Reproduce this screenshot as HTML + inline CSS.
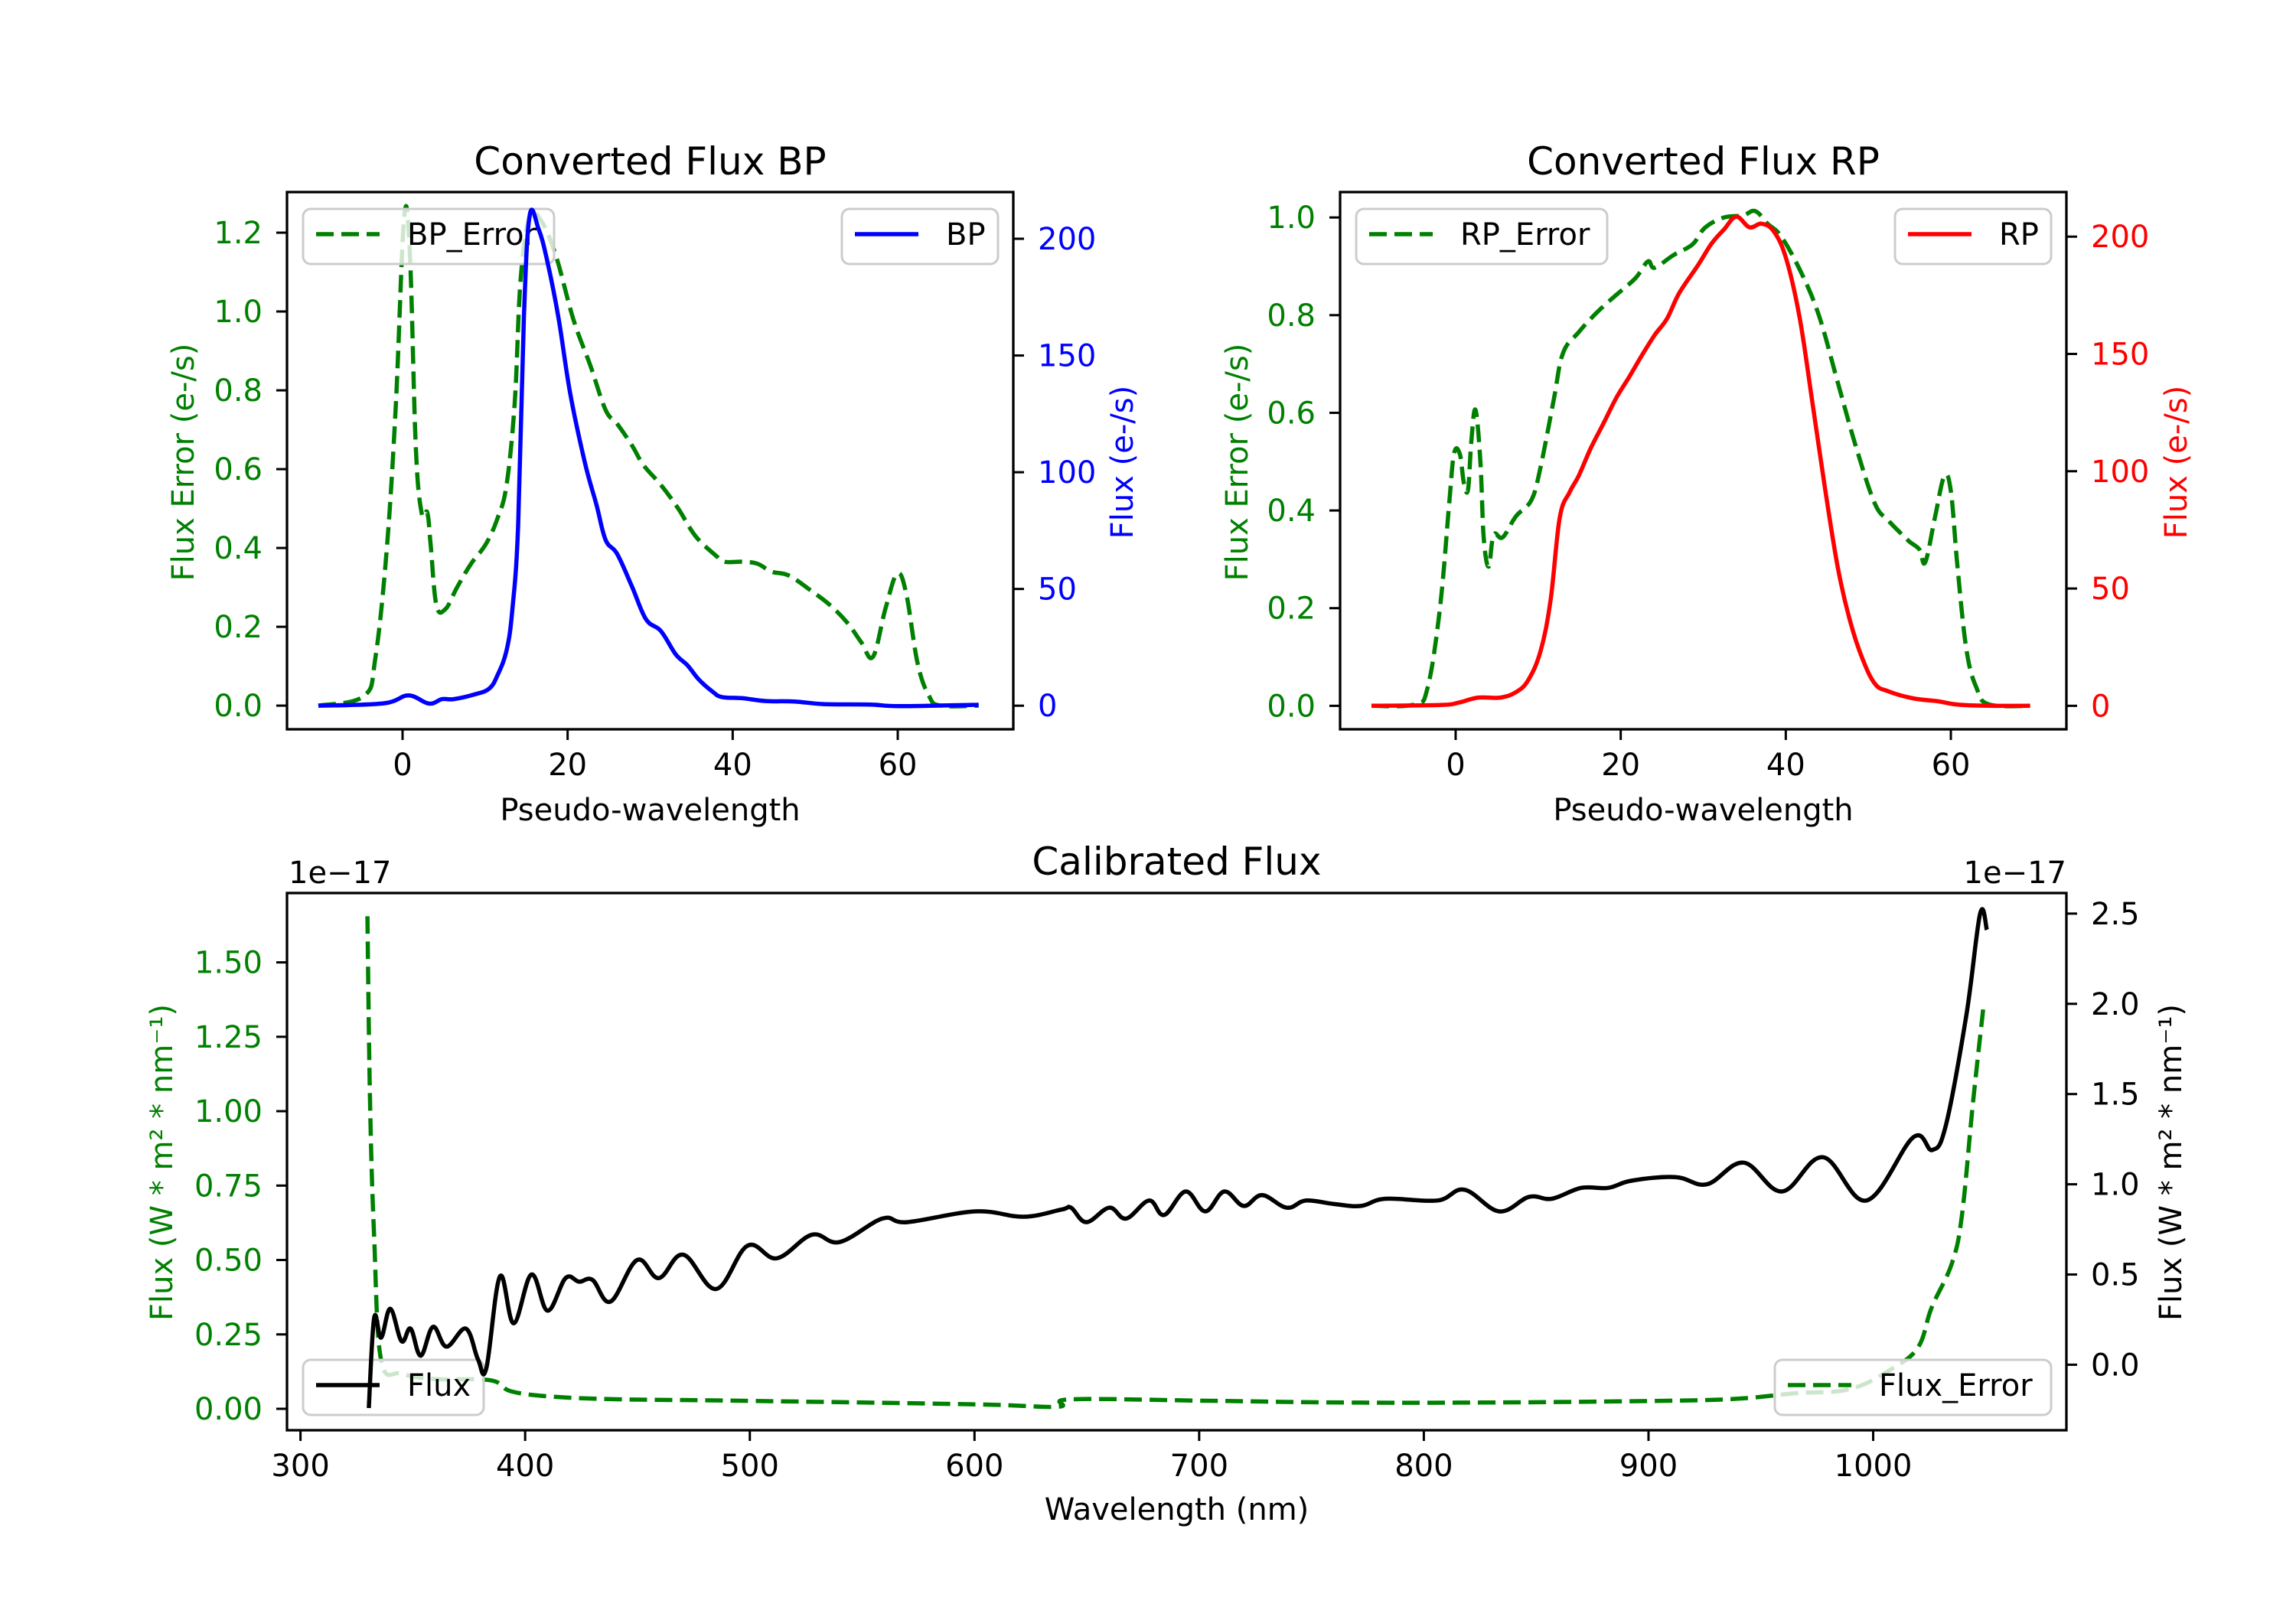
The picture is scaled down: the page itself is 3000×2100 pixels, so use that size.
<!DOCTYPE html>
<html><head><meta charset="utf-8"><style>
html,body{margin:0;padding:0;background:#fff;}
svg{display:block;font-family:"DejaVu Sans","Liberation Sans",sans-serif;}
</style></head><body>
<svg id="fig" width="3000" height="2100" viewBox="0 0 3000 2100" xmlns="http://www.w3.org/2000/svg"></svg>
<script>
// ---- BP panel data ----
const bpX = [-10.2,-2.3,0.7,3.2,4.8,6.2,8.7,10.5,11.5,12.6,13.3,14,14.7,15.4,16.5,17.5,18.9,20.3,22.1,23.5,24.6,26,27.8,29.5,31.3,33.1,34.5,35.9,37.6,38.7,41.2,44,47.5,51,56.7,60.2,69.8];
const bpFlux = [0,1,4.4,0.9,2.8,2.8,4.8,7.3,13,23.7,41,77,166,210,204,191,166,134,104,86,71,65,51,37,32,22,17.4,11.2,5.9,3.7,3.2,2,1.8,0.7,0.5,-0.2,0.4];
const bpErrX = [-10.2,-4.7,-3.3,-1.9,-0.8,0.2,0.9,1.6,2.3,3,3.4,4.1,5.2,6.6,8.3,10.1,11.5,12.6,13.6,14.3,15.4,16.8,18.6,20.7,22.8,24.6,26,27.8,29.2,31.3,33.4,35.5,38,39,41.2,43,44.7,46.8,49.6,51.8,53.9,55.6,57,58.5,59.9,61,62.4,63.8,65.2,69.8];
const bpErr = [0,0.024,0.12,0.40,0.77,1.24,1.14,0.66,0.49,0.49,0.41,0.255,0.245,0.30,0.36,0.41,0.475,0.56,0.77,1.08,1.24,1.23,1.14,0.98,0.86,0.75,0.715,0.66,0.61,0.56,0.50,0.43,0.38,0.365,0.365,0.36,0.34,0.33,0.29,0.255,0.21,0.16,0.124,0.245,0.334,0.287,0.108,0.024,0,0];
// ---- RP panel data ----
const rpX = [-10.2,-1.9,0.4,2.7,5.4,7.3,8.8,10.3,11.5,12.6,13.8,14.9,16.4,18,19.5,21,22.5,24.1,25.6,27.1,29.4,31,32.5,34,35.6,37.1,38.6,40.1,41.7,43.2,44.7,46.3,47.8,49.3,50.8,52.4,55.4,58.5,60.8,64.6,69.6];
const rpFlux = [0,0.35,1.4,3.5,3.5,5.8,11,23.5,45,80,91,98,110,121,131.5,140,149,158,165,176,188,197,203,208.5,204,205.5,202,190,165,130,94,59,36,20,9.4,6.2,3.2,1.9,0.5,0,0];
const rpErrX = [-10.2,-5,-3.4,-1.9,-0.8,-0.2,0.5,1,1.5,1.9,2.4,3,3.4,4,4.6,5.7,7.3,9.2,10.3,11.9,13,14.9,17.2,19.5,21.8,23.3,24.1,26.4,28.7,30.2,32.5,34.8,36.3,37.8,39.4,41.7,44,46.3,48.6,50.8,52.4,53.9,55,56.2,56.9,58.1,59.2,60,60.8,61.9,63.1,64.6,69.6];
const rpErr = [0,0.003,0.037,0.2,0.41,0.516,0.516,0.456,0.443,0.542,0.606,0.5,0.345,0.285,0.35,0.345,0.388,0.422,0.49,0.628,0.722,0.765,0.807,0.842,0.876,0.91,0.897,0.923,0.945,0.979,1.0,1.004,1.013,0.987,0.962,0.893,0.8,0.662,0.525,0.414,0.38,0.354,0.336,0.32,0.294,0.388,0.47,0.44,0.285,0.114,0.037,0.003,0];
// ---- Calibrated panel data ----
const calWl = [330.4,332.8,335.9,340,345,349,353.5,359,365,373.6,379,382.7,388.8,394.9,402.8,410,418,424,430,438,449.8,459.5,470.4,485,499,512,527.6,540,559,570,600.5,621.8,638.8,643,649.8,660,667.5,677.7,684.4,694,702.7,711.2,719.8,728,739,747.6,760.4,772,783,806,818,833.5,846.8,857,870,882,892.5,912,926,942.3,959.4,977.6,997,1017.8,1026.3,1032.4,1041.5,1047.6,1050.6];
const calFlux = [-0.24,0.26,0.15,0.31,0.13,0.2,0.05,0.21,0.10,0.2,0.03,-0.02,0.49,0.23,0.5,0.3,0.48,0.46,0.47,0.35,0.58,0.48,0.61,0.42,0.66,0.59,0.72,0.68,0.81,0.79,0.85,0.82,0.86,0.87,0.79,0.87,0.81,0.91,0.83,0.96,0.85,0.96,0.88,0.94,0.87,0.91,0.89,0.88,0.92,0.91,0.97,0.85,0.93,0.92,0.98,0.98,1.02,1.04,1.0,1.12,0.96,1.15,0.91,1.26,1.19,1.33,1.94,2.5,2.41];
const calErrWl = [329.8,331,332.8,335.9,345,360,384.5,393.7,412,442,497,600.5,637,643,704,765,825.5,886,935,965,989.5,1008,1020,1026,1035,1039.5,1044.3,1049.2];
const calErr = [1.655,1.02,0.576,0.163,0.118,0.10,0.096,0.059,0.041,0.032,0.027,0.015,0.007,0.032,0.027,0.021,0.021,0.025,0.032,0.052,0.066,0.133,0.207,0.34,0.488,0.65,1.02,1.36];
// ---- tick labels ----
const pseudoTicks = [0,20,40,60];
const bpErrTicks = [0.0,0.2,0.4,0.6,0.8,1.0,1.2];
const bpFluxTicks = [0,50,100,150,200];
const rpErrTicks = [0.0,0.2,0.4,0.6,0.8,1.0];
const rpFluxTicks = [0,50,100,150,200];
const wlTicks = [300,400,500,600,700,800,900,1000];
const calErrTicks = [0.00,0.25,0.50,0.75,1.00,1.25,1.50];
const calFluxTicks = [0.0,0.5,1.0,1.5,2.0,2.5];

const NS = "http://www.w3.org/2000/svg";
const svg = document.getElementById('fig');
function mk(tag, attrs, name, parent) {
  const el = document.createElementNS(NS, tag);
  for (const k in attrs) el.setAttribute(k, attrs[k]);
  
  
  (parent || svg).appendChild(el);
  return el;
}
function txt(s, attrs, name, parent) { const t = mk('text', attrs, name, parent); t.textContent = s; return t; }
function lin(d0, d1, p0, p1) { return v => p0 + (v - d0) / (d1 - d0) * (p1 - p0); }
const FS = 40;
const GREEN = '#008000';

function smoothPath(P) {
  let d = 'M' + P[0][0].toFixed(1) + ',' + P[0][1].toFixed(1);
  for (let i = 0; i < P.length - 1; i++) {
    const p0 = P[Math.max(0, i - 1)], p1 = P[i], p2 = P[i + 1], p3 = P[Math.min(P.length - 1, i + 2)];
    const t = 0.18;
    const c1x = p1[0] + (p2[0] - p0[0]) * t, c1y = p1[1] + (p2[1] - p0[1]) * t;
    const c2x = p2[0] - (p3[0] - p1[0]) * t, c2y = p2[1] - (p3[1] - p1[1]) * t;
    d += ' C' + c1x.toFixed(1) + ',' + c1y.toFixed(1) + ' ' + c2x.toFixed(1) + ',' + c2y.toFixed(1) + ' ' + p2[0].toFixed(1) + ',' + p2[1].toFixed(1);
  }
  return d;
}
function drawLine(xs, ys, sx, sy, color, dashed, name, g) {
  const P = xs.map((x, i) => [sx(x), sy(ys[i])]);
  const a = {d: smoothPath(P), fill: 'none', stroke: color, 'stroke-width': 5.5, 'stroke-linejoin': 'round'};
  if (dashed) a['stroke-dasharray'] = '23,10';
  return mk('path', a, name, g);
}
function legend(x, y, w, label, color, dashed, name, g) {
  const lg = mk('g', {}, name, g);
  mk('rect', {x: x, y: y, width: w, height: 72, rx: 10, fill: 'rgba(255,255,255,0.8)', stroke: '#cccccc', 'stroke-width': 3}, name + '-frame', lg);
  const a = {x1: x + 17, x2: x + 100, y1: y + 33, y2: y + 33, stroke: color, 'stroke-width': 5.5};
  if (dashed) a['stroke-dasharray'] = '23,10';
  mk('line', a, name + '-handle', lg);
  txt(label, {x: x + 136, y: y + 47, 'font-size': FS, fill: '#000'}, name + '-label', lg);
}
function xTicks(vals, sx, yb, g, name, fmt) {
  vals.forEach(v => {
    mk('line', {x1: sx(v), x2: sx(v), y1: yb, y2: yb + 14, stroke: '#000', 'stroke-width': 3}, name + '-tick', g);
    txt(fmt ? fmt(v) : String(v), {x: sx(v), y: yb + 60, 'font-size': FS, 'text-anchor': 'middle', fill: '#000'}, name + '-label', g);
  });
}
function yTicks(vals, sy, xa, side, color, g, name, fmt) {
  vals.forEach(v => {
    const d = side === 'left' ? -14 : 14;
    mk('line', {x1: xa, x2: xa + d, y1: sy(v), y2: sy(v), stroke: '#000', 'stroke-width': 3}, name + '-tick', g);
    txt(fmt(v), {x: side === 'left' ? xa - 32 : xa + 32, y: sy(v) + 14, 'font-size': FS, 'text-anchor': side === 'left' ? 'end' : 'start', fill: color}, name + '-label', g);
  });
}
function frame(x0, y0, x1, y1, g, name) {
  mk('rect', {x: x0, y: y0, width: x1 - x0, height: y1 - y0, fill: 'none', stroke: '#000', 'stroke-width': 3.3}, name, g);
}
function clip(id, x0, y0, x1, y1) {
  const c = mk('clipPath', {id: id}, id);
  mk('rect', {x: x0, y: y0, width: x1 - x0, height: y1 - y0}, id + '-rect', c);
}
function ylabel(s, x, y, color, name, g) {
  txt(s, {x: x, y: y, 'font-size': FS, 'text-anchor': 'middle', fill: color, transform: 'rotate(-90 ' + x + ' ' + y + ')'}, name, g);
}

// ---------- BP panel ----------
(function () {
  const g = mk('g', {}, 'bp-panel');
  const X0 = 375, X1 = 1324, Y0 = 251, Y1 = 953;
  const sx = lin(-14, 74, X0, X1), syL = lin(-0.06, 1.303, Y1, Y0), syR = lin(-10.1, 220, Y1, Y0);
  clip('clip-bp', X0, Y0, X1, Y1);
  const pg = mk('g', {'clip-path': 'url(#clip-bp)'}, 'bp-plot-area', g);
  drawLine(bpErrX, bpErr, sx, syL, GREEN, true, 'bp-error-line', pg);
  legend(396, 273, 328, 'BP_Error', GREEN, true, 'bp-error-legend', g);
  const pg2 = mk('g', {'clip-path': 'url(#clip-bp)'}, 'bp-plot-area-twin', g);
  drawLine(bpX, bpFlux, sx, syR, '#0000ff', false, 'bp-flux-line', pg2);
  legend(1100, 273, 204, 'BP', '#0000ff', false, 'bp-legend', g);
  frame(X0, Y0, X1, Y1, g, 'bp-axes-frame');
  xTicks(pseudoTicks, sx, Y1, g, 'bp-x-tick');
  yTicks(bpErrTicks, syL, X0, 'left', GREEN, g, 'bp-left-tick', v => v.toFixed(1));
  yTicks(bpFluxTicks, syR, X1, 'right', '#0000ff', g, 'bp-right-tick', v => String(v));
  txt('Converted Flux BP', {x: (X0 + X1) / 2, y: 228, 'font-size': 50, 'text-anchor': 'middle'}, 'bp-title', g);
  txt('Pseudo-wavelength', {x: (X0 + X1) / 2, y: 1072, 'font-size': FS, 'text-anchor': 'middle'}, 'bp-x-axis-title', g);
  ylabel('Flux Error (e-/s)', 253, 604, GREEN, 'bp-left-axis-title', g);
  ylabel('Flux (e-/s)', 1480, 604, '#0000ff', 'bp-right-axis-title', g);
})();

// ---------- RP panel ----------
(function () {
  const g = mk('g', {}, 'rp-panel');
  const X0 = 1751, X1 = 2700, Y0 = 251, Y1 = 953;
  const sx = lin(-14, 74, X0, X1), syL = lin(-0.048, 1.052, Y1, Y0), syR = lin(-10, 219, Y1, Y0);
  clip('clip-rp', X0, Y0, X1, Y1);
  const pg = mk('g', {'clip-path': 'url(#clip-rp)'}, 'rp-plot-area', g);
  drawLine(rpErrX, rpErr, sx, syL, GREEN, true, 'rp-error-line', pg);
  legend(1772, 273, 328, 'RP_Error', GREEN, true, 'rp-error-legend', g);
  const pg2 = mk('g', {'clip-path': 'url(#clip-rp)'}, 'rp-plot-area-twin', g);
  drawLine(rpX, rpFlux, sx, syR, '#ff0000', false, 'rp-flux-line', pg2);
  legend(2476, 273, 204, 'RP', '#ff0000', false, 'rp-legend', g);
  frame(X0, Y0, X1, Y1, g, 'rp-axes-frame');
  xTicks(pseudoTicks, sx, Y1, g, 'rp-x-tick');
  yTicks(rpErrTicks, syL, X0, 'left', GREEN, g, 'rp-left-tick', v => v.toFixed(1));
  yTicks(rpFluxTicks, syR, X1, 'right', '#ff0000', g, 'rp-right-tick', v => String(v));
  txt('Converted Flux RP', {x: (X0 + X1) / 2, y: 228, 'font-size': 50, 'text-anchor': 'middle'}, 'rp-title', g);
  txt('Pseudo-wavelength', {x: (X0 + X1) / 2, y: 1072, 'font-size': FS, 'text-anchor': 'middle'}, 'rp-x-axis-title', g);
  ylabel('Flux Error (e-/s)', 1630, 604, GREEN, 'rp-left-axis-title', g);
  ylabel('Flux (e-/s)', 2857, 604, '#ff0000', 'rp-right-axis-title', g);
})();

// ---------- Calibrated panel ----------
(function () {
  const g = mk('g', {}, 'calibrated-panel');
  const X0 = 375, X1 = 2700, Y0 = 1167, Y1 = 1869;
  const sx = lin(294, 1086, X0, X1), syL = lin(-0.072, 1.733, Y1, Y0), syR = lin(-0.363, 2.614, Y1, Y0);
  clip('clip-cal', X0, Y0, X1, Y1);
  const pg = mk('g', {'clip-path': 'url(#clip-cal)'}, 'cal-plot-area', g);
  drawLine(calErrWl, calErr, sx, syL, GREEN, true, 'cal-error-line', pg);
  legend(396, 1777, 236, 'Flux', '#000', false, 'cal-flux-legend', g);
  legend(2319, 1777, 361, 'Flux_Error', GREEN, true, 'cal-error-legend', g);
  const pg2 = mk('g', {'clip-path': 'url(#clip-cal)'}, 'cal-plot-area-twin', g);
  drawLine(calWl, calFlux, sx, syR, '#000', false, 'cal-flux-line', pg2);
  frame(X0, Y0, X1, Y1, g, 'cal-axes-frame');
  xTicks(wlTicks, sx, Y1, g, 'cal-x-tick');
  yTicks(calErrTicks, syL, X0, 'left', GREEN, g, 'cal-left-tick', v => v.toFixed(2));
  yTicks(calFluxTicks, syR, X1, 'right', '#000', g, 'cal-right-tick', v => v.toFixed(1));
  txt('Calibrated Flux', {x: (X0 + X1) / 2, y: 1143, 'font-size': 50, 'text-anchor': 'middle'}, 'cal-title', g);
  txt('1e\u221217', {x: 377, y: 1154, 'font-size': FS}, 'cal-left-offset-text', g);
  txt('1e\u221217', {x: 2700, y: 1154, 'font-size': FS, 'text-anchor': 'end'}, 'cal-right-offset-text', g);
  txt('Wavelength (nm)', {x: (X0 + X1) / 2, y: 1986, 'font-size': FS, 'text-anchor': 'middle'}, 'cal-x-axis-title', g);
  ylabel('Flux (W * m\u00b2 * nm\u207b\u00b9)', 225, 1519, GREEN, 'cal-left-axis-title', g);
  ylabel('Flux (W * m\u00b2 * nm\u207b\u00b9)', 2850, 1519, '#000', 'cal-right-axis-title', g);
})();
</script>
</body></html>
